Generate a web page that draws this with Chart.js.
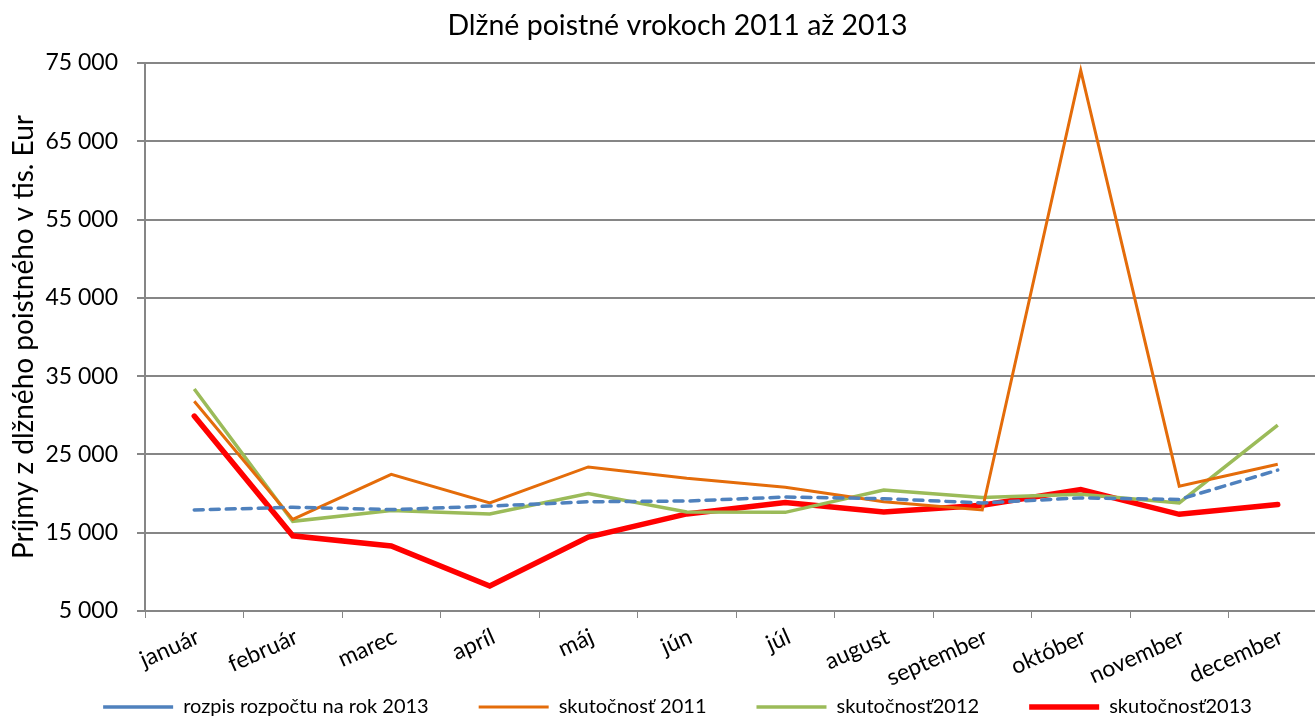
<!DOCTYPE html>
<html>
<head>
<meta charset="utf-8">
<script src="https://cdn.jsdelivr.net/npm/chart.js@4/dist/chart.umd.min.js"></script>
<style>
html, body { margin: 0; padding: 0; background: #fff; overflow: hidden; }
</style>
</head>
<body>
<canvas id="myChart" width="1350" height="716"></canvas>
<script>
const months = ['január', 'február', 'marec', 'apríl', 'máj', 'jún', 'júl', 'august', 'september', 'október', 'november', 'december'];
const rozpis2013 = [17900, 18250, 17950, 18400, 18950, 19050, 19550, 19350, 18800, 19450, 19250, 23000];
const skut2011 = [31800, 16700, 22450, 18800, 23400, 21950, 20800, 18950, 17900, 74050, 20950, 23750];
const skut2012 = [33350, 16450, 17850, 17400, 20000, 17650, 17600, 20450, 19500, 19900, 18800, 28750];
const skut2013 = [29900, 14600, 13300, 8200, 14450, 17400, 18850, 17650, 18500, 20500, 17350, 18600];

const yMin = 5000, yMax = 75000, yStep = 10000;
const gridColor = '#868686';

// 75000 -> "75 000"
function fmt(v) {
  return v.toString().replace(/\B(?=(\d{3})+(?!\d))/g, ' ');
}

// legend sits a bit higher, overlapping the empty space under the month labels
const legendNudge = {
  id: 'legendNudge',
  afterLayout(chart) {
    chart.legend.top -= 38;
    chart.legend.bottom -= 38;
  }
};

const chartdata = {
  labels: months,
  datasets: [
    {
      label: 'rozpis rozpočtu na rok 2013',
      data: rozpis2013,
      borderColor: '#4F81BD',
      backgroundColor: '#4F81BD',
      borderWidth: 3.5,
      borderDash: [9, 7],
      borderCapStyle: 'round'
    },
    {
      label: 'skutočnosť 2011',
      data: skut2011,
      borderColor: '#E46C0A',
      backgroundColor: '#E46C0A',
      borderWidth: 3
    },
    {
      label: 'skutočnosť2012',
      data: skut2012,
      borderColor: '#9BBB59',
      backgroundColor: '#9BBB59',
      borderWidth: 3.5
    },
    {
      label: 'skutočnosť2013',
      data: skut2013,
      borderColor: '#FF0000',
      backgroundColor: '#FF0000',
      borderWidth: 5.5,
      borderCapStyle: 'round'
    }
  ]
};

const config = {
  type: 'line',
  data: chartdata,
  plugins: [legendNudge],
  options: {
    responsive: false,
    animation: false,
    devicePixelRatio: 1,
    elements: { point: { radius: 0, hoverRadius: 0 }, line: { tension: 0 } },
    layout: { padding: { left: 28, right: 23, top: 0, bottom: -49 } },
    plugins: {
      title: {
        display: true,
        text: 'Dlžné poistné vrokoch 2011 až 2013',
        color: '#000',
        font: { family: 'Lato', size: 28.5, weight: 'normal' },
        padding: { top: 9, bottom: 19.8 }
      },
      legend: {
        position: 'bottom',
        labels: {
          color: '#000',
          font: { family: 'Lato', size: 20 },
          usePointStyle: true,
          pointStyle: 'line',
          pointStyleWidth: 70,
          boxWidth: 70,
          padding: 50
        }
      },
      tooltip: { enabled: false }
    },
    scales: {
      x: {
        offset: true,
        grid: { display: true, drawOnChartArea: false, drawTicks: true, tickLength: 7, color: gridColor, offset: true },
        border: { color: gridColor, width: 2 },
        ticks: {
          color: '#000',
          font: { family: 'Lato', size: 23 },
          minRotation: 24,
          maxRotation: 24,
          labelOffset: 4,
          padding: 5,
          autoSkip: false
        },
        afterFit: function(scale) { scale.height = 74; }
      },
      y: {
        min: yMin,
        max: yMax,
        grid: { color: gridColor, lineWidth: 2, tickLength: 8 },
        border: { color: gridColor, width: 2 },
        ticks: {
          stepSize: yStep,
          color: '#000',
          font: { family: 'Lato', size: 23 },
          padding: 19,
          callback: function(v) { return fmt(v); }
        },
        title: {
          display: true,
          text: 'Príjmy z dlžného poistného v tis. Eur',
          color: '#000',
          font: { family: 'Lato', size: 28 },
          padding: { top: -21, bottom: 0 }
        },
        afterFit: function(scale) { scale.width = 117; }
      }
    }
  }
};

var myChart = new Chart(document.getElementById('myChart'), config);
</script>
</body>
</html>
